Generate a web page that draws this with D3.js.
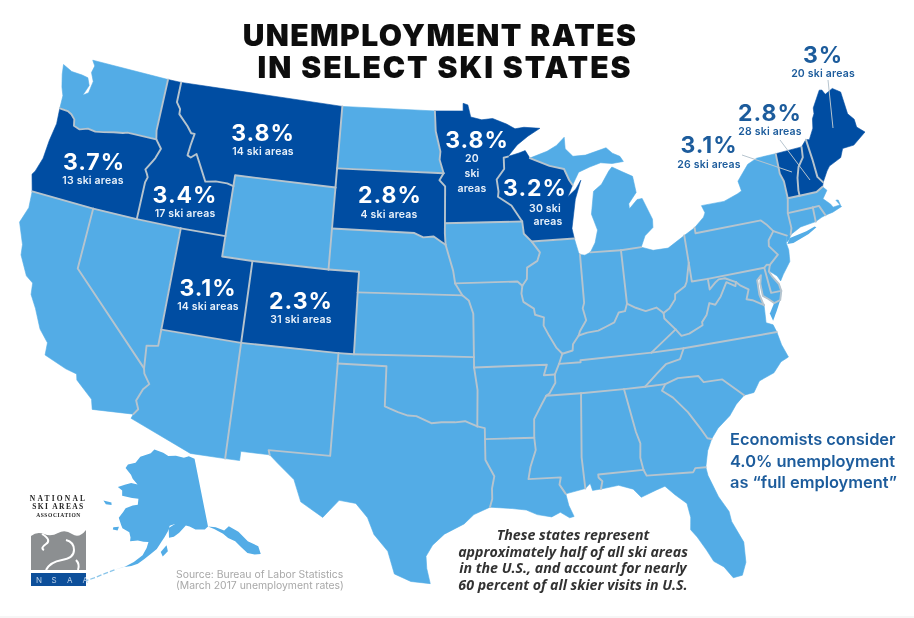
<!DOCTYPE html>
<html><head><meta charset="utf-8">
<script src="https://cdn.jsdelivr.net/npm/d3@7/dist/d3.min.js"></script>
<style>html,body{margin:0;padding:0;background:#fff}svg{display:block}</style>
</head><body><svg id="c" width="914" height="618"></svg>
<script>
const r=a=>a.slice().reverse();
// ---- boundary chains, lon/lat ----
const N_WA=[[-122.76,49],[-117.04,49]],N_ID=[[-117.04,49],[-116.05,49]],N_MT=[[-116.05,49],[-104.05,49]],N_ND=[[-104.05,49],[-97.23,49]];
const N_MN=[[-97.23,49],[-95.15,49],[-95.15,49.38],[-94.8,49.3],[-94.6,48.7],[-93.8,48.55],[-93,48.6],[-92,48.3],[-91.4,48.05],[-90.75,48.1],[-89.6,48]];
const C_MN=[[-89.6,48],[-90.5,47.65],[-91.3,47.25],[-92,46.7]];
const C_WA=[[-122.76,49],[-122.5,48.75],[-122.6,48.4],[-122.3,48],[-122.4,47.4],[-122.75,47.2],[-122.5,47.75],[-122.75,48.1],[-123.2,48.15],[-124,48.17],[-124.72,48.38],[-124.6,47.9],[-124.35,47.3],[-124.1,46.9],[-124.05,46.27]];
const C_OR=[[-124.05,46.27],[-123.95,45.5],[-124.1,44.6],[-124.15,43.7],[-124.4,43],[-124.55,42.8],[-124.2,42]];
const C_CA=[[-124.2,42],[-124.1,41.2],[-124.4,40.4],[-123.8,39.4],[-123.7,38.9],[-123,38],[-122.5,37.75],[-122.4,37.2],[-121.9,36.6],[-121.3,35.7],[-120.65,35.15],[-120.6,34.55],[-119.2,34.15],[-118.5,34.03],[-118.4,33.75],[-117.3,33],[-117.13,32.53]];
const CA_MX=[[-117.13,32.53],[-114.72,32.72]],AZ_MX=[[-114.72,32.72],[-114.81,32.5],[-111.07,31.33],[-109.05,31.33]],NM_MX=[[-109.05,31.33],[-108.21,31.33],[-108.21,31.78],[-106.53,31.78]];
const TX_MX=[[-106.53,31.78],[-106,31.4],[-105,30.7],[-104.5,29.65],[-103.2,28.98],[-102.85,29.35],[-102.35,29.87],[-101.4,29.77],[-100.7,29.1],[-100.3,28.3],[-99.5,27.5],[-99.1,26.4],[-98.2,26.05],[-97.15,25.96]];
const C_TX=[[-97.15,25.96],[-97.35,26.7],[-97.4,27.3],[-97.05,27.85],[-96.4,28.4],[-95.3,28.9],[-94.75,29.35],[-93.84,29.7]];
const C_LA=[[-93.84,29.7],[-92.6,29.6],[-91.8,29.5],[-91.2,29.25],[-90.4,29.1],[-89.9,29.3],[-89.4,29],[-89.15,29.05],[-89.4,29.6],[-89.53,30.18]];
const C_MS=[[-88.4,30.37],[-89.53,30.18]],C_AL=[[-87.52,30.28],[-88,30.25],[-88.1,30.6],[-88.4,30.37]];
const C_FL=[[-87.52,30.28],[-86.5,30.38],[-85.7,30.12],[-85.3,29.68],[-84.4,29.95],[-83.9,30.08],[-83.4,29.6],[-82.8,29.1],[-82.7,28.4],[-82.8,27.8],[-82.5,27.4],[-82.1,26.7],[-81.8,26.1],[-81.3,25.75],[-80.9,25.15],[-80.4,25.2],[-80.1,25.8],[-80.03,26.8],[-80.5,27.9],[-80.55,28.4],[-81,29.2],[-81.4,30.3],[-81.45,30.72]];
const C_GA=[[-80.87,32.03],[-81.2,31.5],[-81.45,30.72]],C_SC=[[-80.87,32.03],[-80.4,32.5],[-79.6,33],[-79.1,33.5],[-78.55,33.86]];
const C_NC=[[-78.55,33.86],[-77.95,33.9],[-77.5,34.4],[-76.55,34.65],[-76,35.1],[-75.5,35.25],[-75.75,35.9],[-75.87,36.55]];
const C_VA=[[-76.3,37.95],[-76.35,37.5],[-76.4,37.1],[-76,36.93],[-75.87,36.55]];
const C_MD=[[-75.05,38.45],[-75.24,38.03],[-75.65,37.95],[-75.95,38.2],[-76.25,38.4],[-76.25,39],[-76.1,39.4],[-76.4,39.2],[-76.45,38.5],[-76.35,38.1],[-76.3,37.95]];
const C_DE=[[-75.4,39.8],[-75.55,39.5],[-75.4,39.2],[-75.1,38.8],[-75.05,38.45]];
const C_NJ=[[-73.9,41],[-74.05,40.65],[-74,40.3],[-74.1,39.75],[-74.7,39.2],[-74.95,38.93],[-75.1,39.2],[-75.5,39.5],[-75.4,39.8]];
const C_NY2=[[-73.65,41],[-73.8,40.8],[-74,40.7],[-73.9,41]];
const C_CT=[[-71.85,41.32],[-72.9,41.25],[-73.65,41]],C_RI=[[-71.85,41.32],[-71.4,41.45],[-71.12,41.5]];
const C_MA=[[-70.82,42.87],[-70.6,42.65],[-71,42.3],[-70.6,41.95],[-70.5,41.78],[-70,41.8],[-70.05,42.05],[-70.2,42.07],[-69.95,41.7],[-70.6,41.55],[-71.12,41.5]];
const C_NH=[[-70.7,43.07],[-70.82,42.87]];
const C_ME=[[-71.08,45.3],[-70.85,45.25],[-70.4,45.75],[-70.25,46.2],[-70.05,46.42],[-69.99,46.7],[-69.23,47.46],[-69.05,47.43],[-68.9,47.18],[-68.3,47.36],[-67.8,47.07],[-67.78,45.95],[-67.45,45.6],[-67.45,45.2],[-67,44.85],[-68,44.4],[-68.8,44.4],[-69.1,44],[-70,43.75],[-70.25,43.55],[-70.7,43.07]];
const N_VT=[[-73.35,45],[-71.5,45.01]],N_NH=[[-71.5,45.01],[-71.08,45.3]];
const C_NY=[[-79.76,42.27],[-79.05,42.7],[-78.9,42.9],[-79.05,43.27],[-77.5,43.27],[-76.5,43.5],[-76.2,43.6],[-76.3,44.1],[-75.4,44.8],[-74.7,45],[-73.35,45]];
const C_PA=[[-80.52,41.98],[-79.76,42.27]],C_OH=[[-83.45,41.73],[-82.7,41.5],[-81.7,41.5],[-80.52,41.98]];
const C_LM=[[-86.82,41.76],[-86.45,42.2],[-86.2,42.8],[-86.5,43.6],[-86.2,44.7],[-85.6,45],[-85,45.6],[-84.75,45.78],[-84.1,45.5],[-83.4,45.2],[-83.3,44.4],[-83.9,43.9],[-83.9,43.65],[-83.3,44.05],[-82.95,44.07],[-82.45,43],[-82.5,42.6],[-83.1,42.25],[-83.45,41.73]];
const C_IN=[[-87.52,41.7],[-87.2,41.65],[-86.82,41.76]],C_IL=[[-87.8,42.5],[-87.6,41.8],[-87.52,41.7]];
const C_WI1=[[-92,46.7],[-91.2,46.85],[-90.75,46.95],[-90.45,46.57]],C_WI2=[[-87.6,45.1],[-88,44.55],[-87.4,44.9],[-87,45.3],[-87.5,44.4],[-87.9,43],[-87.8,42.5]];
const C_UP=[[-87.6,45.1],[-87.1,45.7],[-86.3,45.9],[-85.5,46.05],[-84.7,45.95],[-83.9,45.98],[-84.1,46.25],[-84.6,46.45],[-85,46.75],[-86.5,46.5],[-87.4,46.5],[-87.9,46.9],[-87.9,47.47],[-88.5,47.1],[-89.2,46.85],[-90.45,46.57]];
// shared borders
const WA_OR=[[-124.05,46.27],[-123.45,46.25],[-123.15,46.15],[-122.85,45.95],[-122.75,45.65],[-122.3,45.55],[-121.75,45.7],[-121.2,45.65],[-120.65,45.73],[-119.95,45.85],[-119.3,45.93],[-119,46],[-116.92,46]];
const WA_ID=[[-117.04,49],[-117.04,46.42],[-116.92,46]];
const OR_ID=[[-116.92,46],[-116.46,45.6],[-116.7,45.1],[-116.85,44.9],[-117.2,44.45],[-117.03,44.25],[-116.93,44.1],[-117.03,43.83],[-117.03,42]];
const ID_MT=[[-116.05,49],[-116.05,48],[-115.72,47.7],[-115.7,47.45],[-114.95,46.95],[-114.6,46.65],[-114.35,46.65],[-114.48,46.05],[-114.55,45.55],[-114.3,45.48],[-113.95,45.7],[-113.45,45.05],[-113,44.45],[-112.3,44.55],[-111.5,44.55],[-111.05,44.47]];
const ID_WY=[[-111.05,44.47],[-111.05,42]],MT_WY=[[-111.05,44.47],[-111.05,45],[-104.05,45]];
const MT_ND=[[-104.05,49],[-104.05,45.94]],MT_SD=[[-104.05,45.94],[-104.05,45]],WY_SD=[[-104.05,45],[-104.05,43]],WY_NE=[[-104.05,43],[-104.05,41]];
const WY_CO=[[-109.05,41],[-104.05,41]],NE_CO=[[-104.05,41],[-102.05,41],[-102.05,40]],UT_WY=[[-111.05,42],[-111.05,41],[-109.05,41]];
const UT_CO=[[-109.05,41],[-109.05,37]],UT_AZ=[[-114.05,37],[-109.05,37]],UT_NV=[[-114.05,42],[-114.05,37]],UT_ID=[[-114.05,42],[-111.05,42]];
const NV_ID=[[-117.03,42],[-114.05,42]],NV_OR=[[-120,42],[-117.03,42]],CA_OR=[[-124.2,42],[-120,42]],CA_NV=[[-120,42],[-120,39],[-114.63,35]];
const NV_AZ=[[-114.05,37],[-114.05,36.2],[-114.75,36.1],[-114.63,35]];
const AZ_CA=[[-114.63,35],[-114.55,34.75],[-114.14,34.3],[-114.45,34],[-114.72,33.4],[-114.5,33],[-114.72,32.72]];
const AZ_NM=[[-109.05,37],[-109.05,31.33]],CO_NM=[[-109.05,37],[-103,37]],CO_OK=[[-103,37],[-102.04,37]],CO_KS=[[-102.05,40],[-102.04,37]];
const NM_OK=[[-103,37],[-103,36.5]],NM_TX=[[-103,36.5],[-103.04,32],[-106.62,32],[-106.53,31.78]];
const TX_OK=[[-103,36.5],[-100,36.5],[-100,34.56],[-99.2,34.3],[-98.6,34.15],[-98.1,34.13],[-97.2,33.8],[-96.6,33.85],[-95.8,33.85],[-95.2,33.9],[-94.48,33.64]];
const TX_AR=[[-94.48,33.64],[-94.04,33.55],[-94.04,33.02]],TX_LA=[[-94.04,33.02],[-94.04,32],[-93.55,31.2],[-93.7,30.6],[-93.7,30.1],[-93.84,29.7]];
const MN_WI=[[-92,46.7],[-92.3,46.65],[-92.3,46.1],[-92.85,45.6],[-92.75,45],[-92.8,44.75],[-91.9,44.3],[-91.22,43.5]];
const IA_WI=[[-91.22,43.5],[-91.15,42.9],[-90.65,42.5]],IA_IL=[[-90.65,42.5],[-90.15,41.95],[-90.35,41.55],[-91.05,41.25],[-91.1,40.7],[-91.42,40.38]];
const MO_IL=[[-91.42,40.38],[-91.5,40],[-91.4,39.6],[-90.75,39.25],[-90.7,38.95],[-90.15,38.8],[-90.2,38.4],[-89.9,37.9],[-89.5,37.3],[-89.15,36.98]];
const KY_MO=[[-89.15,36.98],[-89.4,36.5]],TN_MO=[[-89.4,36.5],[-89.7,36]],TN_AR=[[-89.7,36],[-89.7,35.6],[-90.1,35.1],[-90.3,35]];
const AR_MS=[[-90.3,35],[-90.6,34.6],[-91.1,33.9],[-91.15,33]],LA_MS=[[-91.15,33],[-91.1,32.4],[-91.45,31.6],[-91.6,31],[-89.75,31],[-89.85,30.65],[-89.53,30.18]];
const AR_MO=[[-89.7,36],[-90.37,36],[-90.15,36.5],[-94.62,36.5]],AR_OK=[[-94.62,36.5],[-94.43,35.4],[-94.48,33.64]],AR_LA=[[-94.04,33.02],[-91.15,33]];
const OK_MO=[[-94.62,37],[-94.62,36.5]],MO_KS=[[-94.62,37],[-94.62,39.1],[-94.9,39.75],[-95.31,40]],MO_NE=[[-95.31,40],[-95.77,40.58]];
const IA_MO=[[-95.77,40.58],[-91.72,40.6],[-91.42,40.38]],IA_NE=[[-95.77,40.58],[-95.9,41.2],[-96.1,41.7],[-96.4,42.45]],IA_SD=[[-96.4,42.45],[-96.45,43],[-96.45,43.5]];
const MN_IA=[[-96.45,43.5],[-91.22,43.5]],MN_SD=[[-96.45,43.5],[-96.45,45.3],[-96.85,45.6],[-96.56,45.94]],MN_ND=[[-96.56,45.94],[-96.85,46.6],[-96.8,47],[-97.15,48],[-97.23,49]];
const ND_SD=[[-104.05,45.94],[-96.56,45.94]],SD_NE=[[-104.05,43],[-98.5,43],[-97.9,42.8],[-97.2,42.85],[-96.7,42.6],[-96.4,42.45]];
const NE_KS=[[-102.05,40],[-95.31,40]],KS_OK=[[-102.04,37],[-94.62,37]];
const WI_MI=[[-90.45,46.57],[-89.1,46.13],[-88.1,45.92],[-87.8,45.35],[-87.6,45.1]],WI_IL=[[-90.65,42.5],[-87.8,42.5]];
const IL_IN=[[-87.52,41.7],[-87.53,39.35],[-87.65,39.1],[-87.5,38.5],[-87.95,38],[-88.05,37.8]],IL_KY=[[-88.05,37.8],[-88.45,37.4],[-88.5,37.1],[-89.15,36.98]];
const IN_MI=[[-86.82,41.76],[-84.8,41.7]],MI_OH=[[-84.8,41.7],[-83.45,41.73]],IN_OH=[[-84.8,41.7],[-84.82,39.1]];
const IN_KY=[[-84.82,39.1],[-85,38.75],[-85.4,38.72],[-85.75,38.27],[-86.3,38.1],[-86.8,37.95],[-87.5,37.9],[-88.05,37.8]];
const OH_KY=[[-84.82,39.1],[-84.3,38.85],[-83.7,38.63],[-83,38.73],[-82.6,38.42]];
const OH_WV=[[-82.6,38.42],[-82.2,38.6],[-81.75,39],[-81.7,39.25],[-81,39.55],[-80.85,39.75],[-80.65,40.3],[-80.52,40.64]],OH_PA=[[-80.52,40.64],[-80.52,41.98]];
const NY_PA=[[-79.76,42.27],[-79.76,42],[-75.35,42],[-75.05,41.75],[-74.7,41.36]],PA_NJ=[[-74.7,41.36],[-75.13,40.98],[-75.2,40.7],[-74.75,40.2],[-75.4,39.8]];
const PA_DE=[[-75.4,39.8],[-75.6,39.84],[-75.79,39.72]],PA_MD=[[-75.79,39.72],[-79.48,39.72]],WV_PA=[[-79.48,39.72],[-80.52,39.72],[-80.52,40.64]];
const KY_WV=[[-82.6,38.42],[-82.6,38.15],[-82,37.55]],KY_VA=[[-82,37.55],[-83.68,36.6]],KY_TN=[[-83.68,36.6],[-88.07,36.6],[-88.07,36.5],[-89.4,36.5]];
const WV_VA=[[-82,37.55],[-81.7,37.2],[-81.2,37.25],[-80.3,37.55],[-80.3,37.7],[-79.95,38],[-79.65,38.55],[-79.3,38.42],[-78.87,38.77],[-78.35,39.4],[-77.83,39.13],[-77.75,39.32]];
const WV_MD=[[-77.75,39.32],[-78.4,39.6],[-78.8,39.6],[-79.07,39.47],[-79.48,39.2],[-79.48,39.72]];
const VA_MD=[[-77.75,39.32],[-77.5,39.1],[-77.05,38.85],[-77.3,38.4],[-76.95,38.3],[-76.3,37.95]];
const VA_NC=[[-75.87,36.55],[-81.68,36.59]],VA_TN=[[-81.68,36.59],[-83.68,36.6]],NC_TN=[[-81.68,36.59],[-82,36.1],[-82.9,35.95],[-83.5,35.57],[-84.32,35]];
const TN_GA=[[-84.32,35],[-85.6,35]],TN_AL=[[-85.6,35],[-88.2,35]],TN_MS=[[-88.2,35],[-90.3,35]],NC_GA=[[-84.32,35],[-83.1,35]];
const NC_SC=[[-83.1,35],[-82.3,35.2],[-81.05,35.15],[-80.8,34.82],[-79.67,34.8],[-78.55,33.86]];
const SC_GA=[[-83.1,35],[-83.35,34.7],[-82.75,34.3],[-82,33.5],[-81.4,32.6],[-81.1,32.1],[-80.87,32.03]];
const GA_FL=[[-81.45,30.72],[-82.05,30.75],[-82.2,30.57],[-84.86,30.7],[-85,31]],GA_AL=[[-85,31],[-85.1,31.6],[-85,32.3],[-85.18,32.87],[-85.6,35]];
const AL_FL=[[-85,31],[-87.6,31],[-87.6,30.85],[-87.4,30.65],[-87.52,30.28]],AL_MS=[[-88.2,35],[-88.47,31.9],[-88.4,30.37]];
const NY_VT=[[-73.35,45],[-73.4,44],[-73.25,43.6],[-73.27,42.75]],NY_MA=[[-73.27,42.75],[-73.5,42.05]],NY_CT=[[-73.5,42.05],[-73.5,41.3],[-73.65,41]],NY_NJ=[[-74.7,41.36],[-73.9,41]];
const DE_MD=[[-75.05,38.45],[-75.7,38.46],[-75.79,39.72]];
const VT_NH=[[-71.5,45.01],[-71.6,44.5],[-72.05,44.1],[-72.3,43.6],[-72.45,43],[-72.46,42.73]],VT_MA=[[-73.27,42.75],[-72.46,42.73]];
const NH_ME=[[-71.08,45.3],[-71,44.3],[-70.98,43.4],[-70.7,43.07]],NH_MA=[[-70.82,42.87],[-71.3,42.7],[-72.46,42.73]];
const MA_RI=[[-71.12,41.5],[-71.38,42.02],[-71.8,42.02]],MA_CT=[[-71.8,42.02],[-73.5,42.05]],RI_CT=[[-71.8,42.02],[-71.85,41.32]];
// extra land pieces
const LONG_ISLAND=[[-74,40.6],[-73.75,40.85],[-72.6,40.98],[-72,41.1],[-71.9,41.05],[-72.5,40.82],[-73.6,40.58]];
const VA_SHORE=[[-75.65,37.95],[-75.24,38.03],[-75.6,37.55],[-75.95,37.12],[-76.05,37.5]];
const ALASKA=[[-141,69.65],[-143,70.1],[-145,70],[-148,70.4],[-151,70.45],[-153,70.9],[-156.6,71.35],[-158,70.8],[-160,70.5],[-162,70.2],[-163.5,69.3],[-166.2,68.9],[-166.8,68.35],[-164.5,67.6],[-163.7,67.1],[-161.8,66.4],[-164,66.5],[-166,66.1],[-168.1,65.65],[-166.5,65.3],[-166.2,64.6],[-163,64.5],[-161,64.5],[-161,63.7],[-162.5,63.5],[-164.5,63],[-165,62.5],[-166,61.6],[-165,60.7],[-164.5,60.3],[-162.5,59.9],[-162,59.2],[-162,58.7],[-160,58.9],[-158.5,58.8],[-157.2,58.8],[-157.6,58],[-158.5,57],[-160.5,56],[-162.5,55.2],[-164.8,54.6],[-163,55.1],[-161,55.4],[-159.5,55.8],[-158,56.5],[-156.5,57.2],[-155,57.9],[-153.8,58.9],[-153,59.5],[-152,60.3],[-151.5,61],[-150,61.2],[-151.8,60.7],[-151.8,59.4],[-150.5,59.5],[-149,60],[-147,60.9],[-146,60.7],[-144.5,60.2],[-142,60],[-141,60.3],[-139.5,59.8],[-137.5,58.9],[-136.5,58.2],[-135,57.5],[-134,56.5],[-133,55.5],[-131.5,55],[-130.1,54.8],[-130,55.9],[-132,57],[-133.5,58.6],[-135.5,59.7],[-137,59.3],[-139,60],[-141,60.3]];
const KODIAK=[[-154,57.5],[-152.5,58.4],[-152.2,57.6],[-153.5,56.9]],ST_LAWRENCE=[[-171.5,63.4],[-169,63.4],[-168.8,63.1],[-170.5,63]],NUNIVAK=[[-167,60.2],[-165.5,60.4],[-165.7,59.9],[-167,59.9]];
const ALEUTIANS=[[-164.8,54.6],[-167,53.8],[-169,53],[-171,52.2],[-173,51.3]];

const stateNames=["WA","OR","CA","NV","AZ","ID","MT","WY","UT","CO","NM","ND","SD","NE","KS","OK","TX","MN","IA","MO","AR","LA","MS","TN","AL","GA","FL","SC","NC","VA","WV","KY","OH","IN","IL","WI","MI_U","MI_L","PA","NY","NJ","DE","MD","VT","NH","ME","MA","RI","CT"];
const skiStates=["OR","ID","MT","UT","CO","SD","MN","WI","VT","NH","ME"];
const stateChains={
WA:[N_WA,WA_ID,r(WA_OR),r(C_WA)],OR:[WA_OR,OR_ID,r(NV_OR),r(CA_OR),r(C_OR)],CA:[CA_OR,CA_NV,AZ_CA,r(CA_MX),r(C_CA)],NV:[NV_OR,NV_ID,UT_NV,NV_AZ,r(CA_NV)],
AZ:[UT_AZ,AZ_NM,r(AZ_MX),r(AZ_CA),r(NV_AZ)],ID:[N_ID,ID_MT,ID_WY,r(UT_ID),r(NV_ID),r(OR_ID),r(WA_ID)],MT:[N_MT,MT_ND,MT_SD,r(MT_WY),r(ID_MT)],
WY:[MT_WY,WY_SD,WY_NE,r(WY_CO),r(UT_WY),r(ID_WY)],UT:[UT_ID,UT_WY,UT_CO,r(UT_AZ),r(UT_NV)],CO:[WY_CO,NE_CO,CO_KS,r(CO_OK),r(CO_NM),r(UT_CO)],
NM:[CO_NM,NM_OK,NM_TX,r(NM_MX),r(AZ_NM)],ND:[N_ND,r(MN_ND),r(ND_SD),r(MT_ND)],SD:[ND_SD,r(MN_SD),r(IA_SD),r(SD_NE),r(WY_SD),r(MT_SD)],
NE:[SD_NE,r(IA_NE),r(MO_NE),r(NE_KS),r(NE_CO),r(WY_NE)],KS:[NE_KS,r(MO_KS),r(KS_OK),r(CO_KS)],OK:[CO_OK,KS_OK,OK_MO,AR_OK,r(TX_OK),r(NM_OK)],
TX:[TX_OK,TX_AR,TX_LA,r(C_TX),r(TX_MX),r(NM_TX)],MN:[N_MN,C_MN,MN_WI,r(MN_IA),MN_SD,MN_ND],IA:[MN_IA,IA_WI,IA_IL,r(IA_MO),IA_NE,IA_SD],
MO:[IA_MO,MO_IL,KY_MO,TN_MO,AR_MO,r(OK_MO),MO_KS,MO_NE],AR:[r(AR_MO),TN_AR,AR_MS,r(AR_LA),r(TX_AR),r(AR_OK)],LA:[AR_LA,LA_MS,r(C_LA),r(TX_LA)],
MS:[TN_MS,AR_MS,LA_MS,r(C_MS),r(AL_MS)],TN:[VA_TN,KY_TN,TN_MO,TN_AR,r(TN_MS),r(TN_AL),r(TN_GA),r(NC_TN)],AL:[TN_AL,AL_MS,r(C_AL),r(AL_FL),GA_AL],
GA:[TN_GA,r(GA_AL),r(GA_FL),r(C_GA),r(SC_GA),r(NC_GA)],FL:[GA_FL,AL_FL,C_FL],SC:[SC_GA,C_SC,r(NC_SC)],NC:[VA_NC,NC_TN,NC_GA,NC_SC,C_NC],
VA:[KY_VA,r(VA_TN),r(VA_NC),r(C_VA),r(VA_MD),r(WV_VA)],WV:[WV_VA,WV_MD,WV_PA,r(OH_WV),KY_WV],KY:[KY_WV,KY_VA,KY_TN,r(KY_MO),r(IL_KY),r(IN_KY),OH_KY],
OH:[OH_WV,OH_PA,r(C_OH),r(MI_OH),IN_OH,OH_KY],IN:[C_IN,IN_MI,IN_OH,IN_KY,r(IL_IN)],IL:[WI_IL,C_IL,IL_IN,IL_KY,r(MO_IL),r(IA_IL)],
WI:[C_WI1,WI_MI,C_WI2,r(WI_IL),r(IA_WI),r(MN_WI)],MI_U:[WI_MI,C_UP],MI_L:[C_LM,r(MI_OH),r(IN_MI)],PA:[NY_PA,PA_NJ,PA_DE,PA_MD,WV_PA,OH_PA,C_PA],
NY:[C_NY,NY_VT,NY_MA,NY_CT,C_NY2,r(NY_NJ),r(NY_PA)],NJ:[NY_NJ,C_NJ,r(PA_NJ)],DE:[C_DE,DE_MD,r(PA_DE)],MD:[r(DE_MD),C_MD,r(VA_MD),WV_MD,r(PA_MD)],
VT:[N_VT,VT_NH,r(VT_MA),r(NY_VT)],NH:[N_NH,NH_ME,C_NH,NH_MA,r(VT_NH)],ME:[C_ME,r(NH_ME)],MA:[VT_MA,r(NH_MA),C_MA,MA_RI,MA_CT,r(NY_MA)],RI:[MA_RI,RI_CT,C_RI],CT:[r(MA_CT),RI_CT,C_CT,r(NY_CT)]};
const borders=[C_MD,C_DE,WA_OR,WA_ID,OR_ID,ID_MT,ID_WY,MT_WY,MT_ND,MT_SD,WY_SD,WY_NE,WY_CO,NE_CO,UT_WY,UT_CO,UT_AZ,UT_NV,UT_ID,NV_ID,NV_OR,CA_OR,CA_NV,NV_AZ,AZ_CA,AZ_NM,CO_NM,CO_OK,CO_KS,NM_OK,NM_TX,TX_OK,TX_AR,TX_LA,MN_WI,IA_WI,IA_IL,MO_IL,KY_MO,TN_MO,TN_AR,AR_MS,LA_MS,AR_MO,AR_OK,AR_LA,OK_MO,MO_KS,MO_NE,IA_MO,IA_NE,IA_SD,MN_IA,MN_SD,MN_ND,ND_SD,SD_NE,NE_KS,KS_OK,WI_MI,WI_IL,IL_IN,IL_KY,IN_MI,MI_OH,IN_OH,IN_KY,OH_KY,OH_WV,OH_PA,NY_PA,PA_NJ,PA_DE,PA_MD,WV_PA,KY_WV,KY_VA,KY_TN,WV_VA,WV_MD,VA_MD,VA_NC,VA_TN,NC_TN,TN_GA,TN_AL,TN_MS,NC_GA,NC_SC,SC_GA,GA_FL,GA_AL,AL_FL,AL_MS,NY_VT,NY_MA,NY_CT,NY_NJ,DE_MD,VT_NH,VT_MA,NH_ME,NH_MA,MA_RI,MA_CT,RI_CT];

const rateLabels=["3.7%","3.8%","3.4%","2.8%","3.1%","2.3%","3.8%","3.2%"];
const areaLabels=[["13 ski areas"],["14 ski areas"],["17 ski areas"],["4 ski areas"],["14 ski areas"],["31 ski areas"],["20","ski","areas"],["30 ski","areas"]];
const rateAnchors=[[94,170],[263,141],[185,203],[390,203],[208,296],[301,309],[477,148],[535,196]];
const areaAnchors=[[[93,184]],[[263,155]],[[185,217]],[[389,218]],[[208,310]],[[301,323]],[[472,162],[472,177],[472,192]],[[545,212],[548,225]]];
const outRates=["3%","2.8%","3.1%"],outAreas=["20 ski areas","28 ski areas","26 ski areas"];
const outAnchors=[[823,63,77],[770,121,135],[709,153,168]];
const leaders=[[[828,80],[833,128]],[[780,140],[810,180]],[[742,155],[792,172]]];
const titleLines=["UNEMPLOYMENT RATES","IN SELECT SKI STATES"];
const noteLines=["These states represent","approximately half of all ski areas","in the U.S., and account for nearly","60 percent of all skier visits in U.S."];
const econLines=["Economists consider","4.0% unemployment","as “full employment”"];
const sourceLines=["Source: Bureau of Labor Statistics","(March 2017 unemployment rates)"];
const logoLines=["NATIONAL","SKI AREAS","ASSOCIATION"];

const LIGHT="#52ace6",DARK="#034ea2",BORDER="#b6c4ce",NAVY="#1d5c9c";
const svg=d3.select("#c");
const defs=svg.append("defs");
defs.append("filter").attr("id","soft").append("feGaussianBlur").attr("stdDeviation",0.55);
defs.append("filter").attr("id","softT").append("feGaussianBlur").attr("stdDeviation",0.35);

const proj=d3.geoConicEqualArea().parallels([29.5,45.5]).rotate([96,0]).center([0,37.5]).scale(1172).translate([451.6,347]);
const projAK=d3.geoConicEqualArea().parallels([55,65]).rotate([154,0]).center([-2,58.5]).scale(425).translate([153,544.5]);
const line=p=>d3.line().x(d=>p(d)[0]).y(d=>p(d)[1]);
const map=svg.append("g").attr("filter","url(#soft)");
const gs=map.append("g");
gs.selectAll("path.s").data(stateNames).join("path").attr("class","s")
  .attr("d",n=>line(proj)(stateChains[n].flat())+"Z")
  .attr("fill",n=>skiStates.includes(n)?DARK:LIGHT)
  .attr("stroke",n=>skiStates.includes(n)?DARK:LIGHT).attr("stroke-width",0.6).attr("stroke-linejoin","round");
gs.selectAll("path.x").data([LONG_ISLAND,VA_SHORE]).join("path").attr("class","x").attr("d",d=>line(proj)(d)+"Z").attr("fill",LIGHT);
gs.selectAll("path.b").data(borders).join("path").attr("class","b").attr("d",line(proj))
  .attr("fill","none").attr("stroke",BORDER).attr("stroke-width",1.9).attr("stroke-linejoin","round").attr("stroke-linecap","round");
map.selectAll("path.ak").data([ALASKA,KODIAK,ST_LAWRENCE,NUNIVAK]).join("path").attr("class","ak").attr("d",d=>line(projAK)(d)+"Z").attr("fill",LIGHT);
map.append("path").datum(ALEUTIANS).attr("d",line(projAK)).attr("fill","none").attr("stroke","#8cc6ea").attr("stroke-width",1.3).attr("stroke-dasharray","5 2");

const t=svg.append("g").attr("filter","url(#softT)");
t.selectAll("path.l").data(leaders).join("path").attr("class","l").attr("d",d3.line()).attr("fill","none").attr("stroke",BORDER).attr("stroke-width",1);
const txt=(x,y,s,size,w,col,fam,anc="middle")=>t.append("text").attr("x",x).attr("y",y).text(s).attr("font-size",size).attr("font-weight",w).attr("fill",col).attr("font-family",fam).attr("text-anchor",anc);
const F="Inter";
titleLines.forEach((s,i)=>txt([440,445][i],[46,78][i],s,30,900,"#0c0c0c",F).attr("letter-spacing",[1.4,1.95][i]));
rateLabels.forEach((s,i)=>{txt(rateAnchors[i][0],rateAnchors[i][1],s,23,700,"#fff",F).attr("letter-spacing",1);
  areaLabels[i].forEach((a,j)=>txt(areaAnchors[i][j][0],areaAnchors[i][j][1],a,10.5,600,"#e8f1fa",F).attr("letter-spacing",.2));});
outRates.forEach((s,i)=>{txt(outAnchors[i][0],outAnchors[i][1],s,23,700,NAVY,F).attr("letter-spacing",1);txt(outAnchors[i][0],outAnchors[i][2],outAreas[i],10.5,600,NAVY,F).attr("letter-spacing",.2);});
econLines.forEach((s,i)=>txt(730,[445,467,488][i],s,16.4,600,NAVY,F,"start"));
noteLines.forEach((s,i)=>txt(573,[540,557,573,590][i],s,14.2,700,"#333","Open Sans").attr("font-style","italic"));
sourceLines.forEach((s,i)=>txt(176,[578,589][i],s,10.4,400,"#a8a8a8",F,"start"));
// logo
logoLines.forEach((s,i)=>txt(58.5,[501,509,517][i],s,[7.5,7.5,5.5][i],700,"#222","Liberation Serif").attr("letter-spacing",[2.2,1.4,.6][i]));
const logo=svg.append("g").attr("filter","url(#softT)");
logo.append("path").attr("d","M31,570V536Q37,531 44,534T58,533T72,534T86,530V570Z").attr("fill","#8c8f91");
logo.append("path").attr("d","M46,570Q50,562 62,560T74,550T66,540M42,534Q52,540 46,544T44,550M76,560Q80,564 78,570").attr("fill","none").attr("stroke","#fff").attr("stroke-width",2);
logo.append("rect").attr("x",31).attr("y",573).attr("width",55).attr("height",13).attr("fill","#0d4f9a");
["N","S","A","A"].forEach((s,i)=>logo.append("text").attr("x",36+i*15.5).attr("y",583).text(s).attr("fill","#b9cfe8").attr("font-size",8).attr("font-family",F));
svg.append("rect").attr("x",0).attr("y",616).attr("width",914).attr("height",2).attr("fill","#f6f6f6");
</script></body></html>
